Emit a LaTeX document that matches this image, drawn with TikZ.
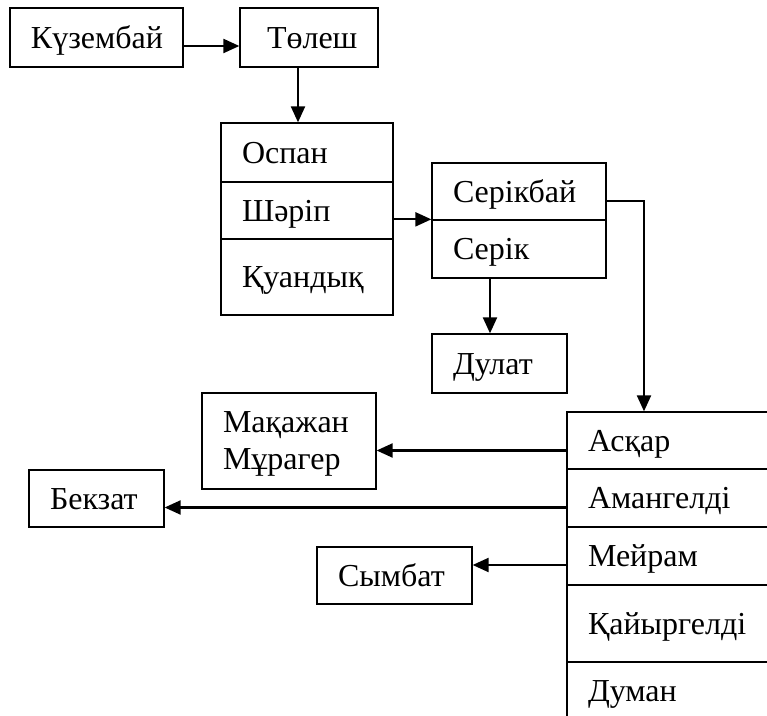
\documentclass[tikz,border=0pt]{standalone}
\usepackage{fontspec}
\setmainfont{Liberation Serif}
\usetikzlibrary{positioning, arrows.meta}

\begin{document}
\begin{tikzpicture}[x=0.5pt, y=-0.5pt, >={Triangle[length=8pt,width=7pt]},
    box/.style={draw, line width=0.65pt, inner xsep=10.5pt, inner ysep=0pt, align=left,
      text height=14.3pt, text depth=3.5pt, font=\fontsize{16}{18.5}\selectfont},
    link/.style={->, line width=1.1pt}]
  \clip (0,0) rectangle (767,716);
  % top row
  \node[box, text width=65.5pt, minimum height=29.5pt] (kuzembai) at (96.5,37.5) {Күзембай};
  \node[box, inner xsep=13.5pt, text width=42pt, minimum height=29.5pt] (tolesh) at (309,37.5) {Төлеш};
  % Tolesh's sons
  \node[box, text width=65pt, minimum height=29.5pt] (ospan) at (307,152.5) {Оспан};
  \node[box, text width=65pt, minimum height=28.5pt] (sharip) at (307,210.5) {Шәріп};
  \node[box, text width=65pt, minimum height=38pt] (kuandyk) at (307,277) {Қуандық};
  % Sharip's sons
  \node[box, text width=66pt, minimum height=28.5pt] (serikbai) at (519,191.5) {Серікбай};
  \node[box, text width=66pt, minimum height=29pt] (serik) at (519,249) {Серік};
  \node[box, text width=46.5pt, minimum height=29.5pt] (dulat) at (499.5,363.5) {Дулат};
  % Serikbai's sons
  \node[box, text width=95.5pt, minimum height=28.5pt] (askar) at (683.5,440.5) {Асқар};
  \node[box, text width=95.5pt, minimum height=29pt] (amangeldi) at (683.5,498) {Амангелді};
  \node[box, text width=95.5pt, minimum height=29pt] (meiram) at (683.5,556) {Мейрам};
  \node[box, text width=95.5pt, minimum height=38.5pt] (kaiyrgeldi) at (683.5,623.5) {Қайыргелді};
  \node[box, text width=95.5pt, minimum height=29pt] (duman) at (683.5,691) {Думан};
  % grandsons
  \node[box, text width=66pt, text height=14pt, text depth=22pt, minimum height=48pt] (makazhan) at (289,441) {Мақажан\\Мұрагер};
  \node[box, text width=46.5pt, minimum height=28.5pt] (bekzat) at (96.5,498.5) {Бекзат};
  \node[box, text width=56.5pt, minimum height=28.5pt] (symbat) at (394.5,575.5) {Сымбат};

  \draw[link] ([yshift=-4.25pt]kuzembai.east) -- ([yshift=-4.25pt]tolesh.west);
  \draw[link] ([xshift=-5.5pt]tolesh.south) -- ([xshift=-5.5pt]tolesh.south |- ospan.north);
  \draw[link] (sharip.east |- serik.north west) -- (serik.north west);
  \draw[link] ([yshift=-4.75pt]serikbai.east) -| ([xshift=-19.75pt]askar.north);
  \draw[link] ([xshift=-14.5pt]serik.south) -- ([xshift=-14.5pt]serik.south |- dulat.north);
  \draw[link] ([yshift=-5pt]askar.west) -- ([yshift=-5pt]askar.west -| makazhan.east);
  \draw[link] ([yshift=-4.75pt]amangeldi.west) -- ([yshift=-4.75pt]amangeldi.west -| bekzat.east);
  \draw[link] ([yshift=-4.5pt]meiram.west) -- ([yshift=-4.5pt]meiram.west -| symbat.east);
\end{tikzpicture}
\end{document}
